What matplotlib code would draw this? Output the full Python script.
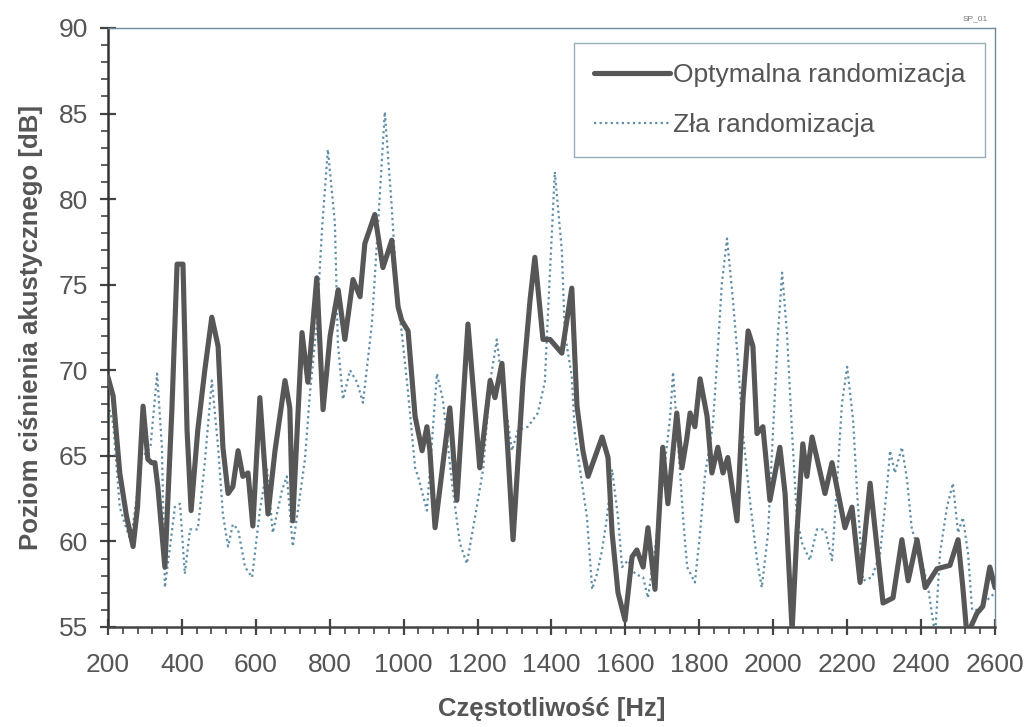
import matplotlib
matplotlib.use("Agg")
import matplotlib.pyplot as plt
from matplotlib.ticker import MultipleLocator

plt.rcParams["font.family"] = ["Liberation Sans", "DejaVu Sans"]

# Optymalna randomizacja (solid)
freq_opt = [200, 214, 232, 250, 268, 280, 295, 308, 318, 327, 335, 354, 373, 387, 403,
            414, 425, 443, 462, 481, 498, 511, 525, 538, 552, 565, 579, 592, 611, 633,
            652, 679, 692, 700, 725, 741, 765, 782, 801, 823, 841, 863, 882, 895, 922,
            944, 968, 985, 995, 1012, 1031, 1050, 1063, 1071, 1085, 1125, 1144, 1174, 1206, 1234,
            1247, 1266, 1282, 1296, 1323, 1342, 1355, 1377, 1396, 1428, 1455, 1469, 1485, 1499, 1537,
            1553, 1564, 1580, 1599, 1618, 1631, 1648, 1661, 1680, 1701, 1715, 1739, 1753, 1766, 1775,
            1788, 1802, 1821, 1834, 1850, 1864, 1877, 1902, 1918, 1932, 1945, 1956, 1972, 1991, 2018,
            2032, 2051, 2064, 2080, 2091, 2105, 2121, 2140, 2159, 2194, 2213, 2235, 2262, 2297, 2324,
            2348, 2365, 2389, 2411, 2443, 2478, 2500, 2513, 2524, 2551, 2567, 2586, 2600]
level_opt = [69.6, 68.5, 64.0, 61.5, 59.7, 62.0, 67.9, 64.8, 64.6, 64.6, 63.2, 58.5, 67.7, 76.2, 76.2,
             66.5, 61.8, 66.5, 70.0, 73.1, 71.4, 65.5, 62.8, 63.2, 65.3, 63.8, 64.0, 60.9, 68.4, 61.6,
             65.3, 69.4, 67.8, 61.2, 72.2, 69.3, 75.4, 67.7, 72.0, 74.7, 71.8, 75.3, 74.3, 77.4, 79.1,
             76.0, 77.6, 73.7, 72.9, 72.3, 67.3, 65.3, 66.7, 65.3, 60.8, 67.8, 62.4, 72.7, 64.3, 69.4,
             68.4, 70.4, 65.3, 60.1, 69.4, 74.1, 76.6, 71.8, 71.8, 71.0, 74.8, 67.9, 65.3, 63.8, 66.1,
             64.9, 60.5, 57.0, 55.4, 59.1, 59.5, 58.5, 60.8, 57.2, 65.5, 62.2, 67.5, 64.3, 66.0, 67.5,
             66.7, 69.5, 67.3, 64.0, 65.5, 64.0, 64.9, 61.2, 68.3, 72.3, 71.4, 66.3, 66.7, 62.4, 65.5,
             62.8, 54.8, 60.5, 65.7, 63.8, 66.1, 64.6, 62.8, 64.6, 60.8, 62.0, 57.6, 63.4, 56.4, 56.7,
             60.1, 57.7, 60.1, 57.3, 58.4, 58.6, 60.1, 57.3, 54.5, 55.8, 56.2, 58.5, 57.3]

# Zła randomizacja (dotted)
freq_zla = [200, 214, 232, 246, 262, 278, 292, 315, 333, 346, 354, 368, 381, 395, 408,
            422, 443, 462, 481, 498, 511, 525, 538, 552, 571, 590, 611, 630, 646, 671,
            684, 700, 719, 733, 747, 765, 779, 795, 814, 822, 836, 855, 874, 890, 914,
            931, 949, 968, 982, 995, 1012, 1031, 1039, 1063, 1090, 1106, 1131, 1152, 1171, 1193,
            1215, 1234, 1252, 1266, 1280, 1293, 1309, 1336, 1363, 1382, 1390, 1409, 1428, 1436, 1455,
            1463, 1496, 1510, 1523, 1537, 1550, 1564, 1580, 1591, 1607, 1626, 1648, 1661, 1680, 1701,
            1721, 1729, 1748, 1756, 1767, 1788, 1802, 1815, 1837, 1850, 1861, 1875, 1891, 1905, 1918,
            1937, 1956, 1969, 1986, 1999, 2013, 2024, 2037, 2051, 2064, 2078, 2099, 2118, 2140, 2159,
            2172, 2186, 2200, 2216, 2227, 2243, 2267, 2289, 2308, 2316, 2329, 2348, 2362, 2375, 2397,
            2419, 2438, 2451, 2470, 2486, 2500, 2513, 2527, 2538, 2554, 2575, 2600]
level_zla = [68.0, 66.9, 62.0, 61.0, 60.0, 62.6, 64.9, 65.5, 69.8, 65.5, 57.3, 59.7, 62.0, 62.2, 58.1,
             60.7, 60.7, 64.6, 69.4, 65.5, 61.6, 59.7, 61.0, 60.7, 58.5, 57.9, 61.8, 64.3, 60.5, 63.0,
             63.8, 59.7, 62.6, 64.8, 68.8, 72.7, 78.2, 82.9, 78.6, 71.6, 68.3, 70.0, 69.3, 68.1, 72.7,
             78.6, 85.1, 79.5, 74.3, 72.2, 68.7, 64.3, 63.8, 61.8, 69.8, 68.3, 63.4, 59.9, 58.7, 61.4,
             64.2, 69.3, 71.8, 69.3, 67.3, 65.3, 66.5, 66.7, 67.5, 69.3, 73.1, 81.6, 77.0, 72.2, 69.6,
             66.3, 61.4, 57.2, 58.1, 59.5, 61.4, 64.2, 61.4, 58.5, 58.9, 58.1, 57.9, 56.7, 59.5, 63.4,
             67.3, 69.9, 64.0, 61.4, 58.5, 57.6, 60.5, 63.8, 66.9, 71.2, 75.1, 77.7, 74.1, 70.4, 66.3,
             62.4, 58.9, 57.3, 60.5, 66.3, 72.2, 75.7, 72.2, 66.3, 61.4, 59.9, 58.9, 60.7, 60.7, 58.9,
             63.2, 68.1, 70.2, 67.1, 62.8, 57.7, 57.9, 59.3, 63.2, 65.3, 64.0, 65.5, 63.6, 60.7, 59.3,
             57.3, 54.5, 59.3, 62.0, 63.4, 60.5, 61.4, 59.3, 56.0, 56.0, 56.5, 57.0]

x_ticks = [200, 400, 600, 800, 1000, 1200, 1400, 1600, 1800, 2000, 2200, 2400, 2600]
y_ticks = [55, 60, 65, 70, 75, 80, 85, 90]

TEXT = "#555555"

fig = plt.figure(figsize=(10.34, 7.27), dpi=100)
ax = fig.add_axes([0.1044, 0.1376, 0.8579, 0.8239])

ax.plot(freq_zla, level_zla, color="#5f8ea6", linewidth=1.6, linestyle=(0, (1, 1.5)),
        label="Zła randomizacja", zorder=2)
ax.plot(freq_opt, level_opt, color="#575757", linewidth=3.7, solid_joinstyle="round",
        solid_capstyle="round", label="Optymalna randomizacja", zorder=3)

ax.set_xlim(200, 2600)
ax.set_ylim(55, 90)
ax.set_xticks(x_ticks)
ax.set_yticks(y_ticks)
ax.xaxis.set_minor_locator(MultipleLocator(40))
ax.yaxis.set_minor_locator(MultipleLocator(1))

ax.tick_params(axis="both", which="major", direction="inout", length=11, width=1.6,
               color="#444444", labelsize=19, labelcolor=TEXT)
ax.tick_params(axis="x", which="major", pad=13)
ax.tick_params(axis="y", which="major", pad=9)
ax.tick_params(axis="both", which="minor", direction="out", length=5, width=1.2, color="#444444")

ax.spines["left"].set_color("#333333")
ax.spines["left"].set_linewidth(1.8)
ax.spines["bottom"].set_color("#444444")
ax.spines["bottom"].set_linewidth(1.8)
ax.spines["top"].set_color("#6f8a98")
ax.spines["top"].set_linewidth(1.0)
ax.spines["right"].set_color("#6f8a98")
ax.spines["right"].set_linewidth(1.0)

ax.set_xlabel("Częstotliwość [Hz]", fontsize=18.5, fontweight="bold", color=TEXT, labelpad=15)
ax.set_ylabel("Poziom ciśnienia akustycznego [dB]", fontsize=18.5, fontweight="bold",
              color=TEXT, labelpad=11)

handles, labels = ax.get_legend_handles_labels()
leg = ax.legend(handles[::-1], labels[::-1], loc="upper right", bbox_to_anchor=(0.9887, 0.975),
                fontsize=19, frameon=True, fancybox=False, handlelength=2.9, handletextpad=0.1,
                borderpad=0.75, labelspacing=1.0, borderaxespad=0.0)
leg.get_frame().set_edgecolor("#7f99a6")
leg.get_frame().set_linewidth(1.0)
for t in leg.get_texts():
    t.set_color(TEXT)

fig.text(0.955, 0.972, "SP_01", fontsize=6, color="#777777", ha="right")

fig.savefig("out.png", dpi=100)
